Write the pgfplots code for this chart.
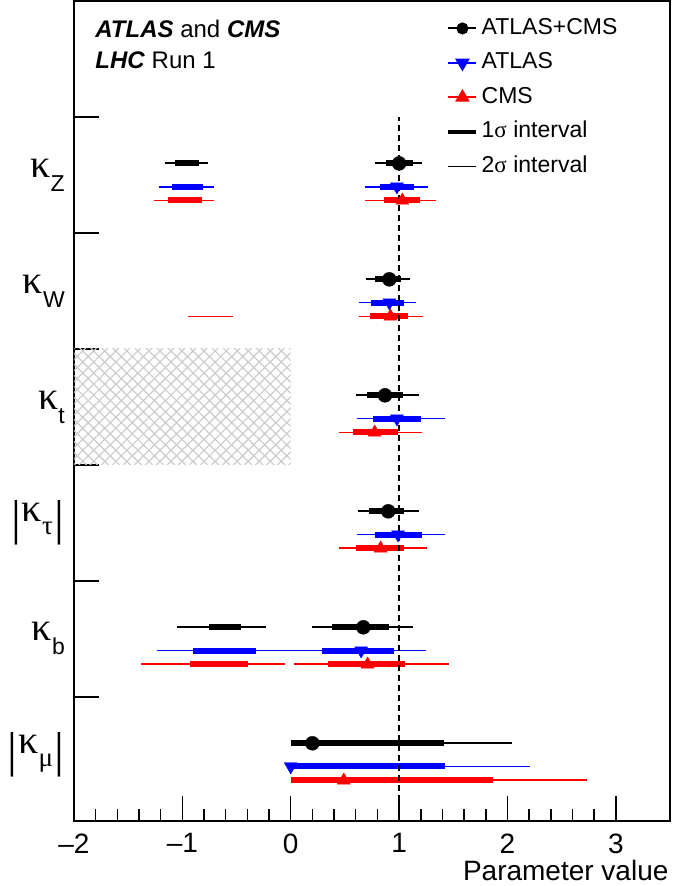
\documentclass[border=0pt]{standalone}
\usepackage{pgfplots}
\pgfplotsset{compat=1.18}
\usetikzlibrary{patterns.meta}
\usepackage{fontspec}
\setmainfont{Liberation Sans}
\newfontfamily\serifk{Liberation Serif}
\definecolor{kblack}{RGB}{1,1,1}
\newcommand\kap{{\serifk\fontsize{40}{40}\selectfont κ}}
\newcommand\sub[1]{\raisebox{-14pt}{\fontsize{23}{23}\selectfont #1}}
\newcommand\gsub[1]{\raisebox{-13pt}{\serifk\fontsize{27}{27}\selectfont #1}}
\newcommand\vbar{\raisebox{-13pt}{\serifk\fontsize{49}{49}\selectfont |}}
\newcommand\iv[4]{\addplot[#1,forget plot] coordinates {(#2,#4) (#3,#4)};}
\begin{document}
\begin{tikzpicture}
\begin{axis}[
  scale only axis, width=596pt, height=820pt,
  xmin=-2, xmax=3.5, ymin=-0.07, ymax=7,
  axis line style={line width=1.5pt},
  every tick/.style={black, line width=1.5pt},
  tick align=inside, xtick pos=left, ytick pos=left,
  major tick length=25pt, minor tick length=12pt,
  xtick={-2,-1,0,1,2,3},
  xticklabels={\textendash2,\textendash1,0,1,2,3},
  minor x tick num=4,
  xticklabel style={font=\fontsize{28}{28}\selectfont, yshift=-9pt},
  ytick={1,2,3,4,5,6}, yticklabels={},
  extra y ticks={0.5,1.5,2.5,3.5,4.5,5.5},
  extra y tick labels={{\vbar\hspace{1pt}\kap\gsub{μ}\hspace{2pt}\vbar},{\kap\sub{b}},{\vbar\hspace{1pt}\kap\gsub{τ}\hspace{2pt}\vbar},{\kap\sub{t}},{\kap\sub{W}},{\kap\sub{Z}}},
  extra y tick style={major tick length=0pt, yticklabel style={inner sep=0pt, xshift=-9pt}},
  xlabel={Parameter value},
  xlabel style={at={(rel axis cs:1,0)}, anchor=base east, yshift=-59pt, xshift=2pt, font=\fontsize{28}{28}\selectfont},
  s1/.style={line width=6pt},
  s2/.style={line width=1.9pt},
  legend image code/.code={\draw[mark repeat=2,mark phase=2,#1] plot coordinates {(0pt,0pt) (14pt,0pt) (28pt,0pt)};},
  legend cell align=left,
  legend style={at={(rel axis cs:0.625,0.982)}, anchor=north west, draw=none, fill=none, inner sep=0pt,
    font=\fontsize{23}{27}\selectfont, row sep=9.5pt, column sep=2pt,
    nodes={inner sep=1.5pt, text height=17pt, text depth=5pt}},
]
\addlegendimage{color=kblack, line width=2pt, mark=*, mark size=5pt}
\addlegendentry{ATLAS+CMS}
\addlegendimage{color=blue, line width=2pt, mark=triangle*, mark size=6.5pt, mark options={rotate=180}}
\addlegendentry{ATLAS}
\addlegendimage{color=red, line width=2pt, mark=triangle*, mark size=6.5pt}
\addlegendentry{CMS}
\addlegendimage{legend image code/.code={\draw[line width=3.5pt, draw=black] (0pt,0pt) -- (28pt,0pt);}}
\addlegendentry{1{\serifk σ} interval}
\addlegendimage{legend image code/.code={\draw[line width=1.5pt, draw=black] (0pt,0pt) -- (28pt,0pt);}}
\addlegendentry{2{\serifk σ} interval}

% hatched excluded region for kappa_t
\addplot[draw=none, pattern color=black!20, pattern={Lines[angle=45,distance=7.8pt,line width=1.2pt]}, forget plot] coordinates {(-2,3) (0,3) (0,4) (-2,4)} -- cycle;
\addplot[draw=none, pattern color=black!20, pattern={Lines[angle=-45,distance=7.8pt,line width=1.2pt]}, forget plot] coordinates {(-2,3) (0,3) (0,4) (-2,4)} -- cycle;

% kappa_Z (row 5)
\iv{black,s2}{-1.156}{-0.764}{5.6} \iv{black,s1}{-1.072}{-0.850}{5.6}
\iv{black,s2}{0.775}{1.215}{5.6}   \iv{black,s1}{0.880}{1.125}{5.6}
\iv{blue,s2}{-1.214}{-0.705}{5.4}  \iv{blue,s1}{-1.093}{-0.814}{5.4}
\iv{blue,s2}{0.682}{1.265}{5.4}    \iv{blue,s1}{0.827}{1.135}{5.4}
\iv{red,s2}{-1.266}{-0.705}{5.28}  \iv{red,s1}{-1.131}{-0.821}{5.28}
\iv{red,s2}{0.689}{1.342}{5.28}    \iv{red,s1}{0.858}{1.197}{5.28}
% kappa_W (row 4)
\iv{black,s2}{0.695}{1.104}{4.6}   \iv{black,s1}{0.775}{1.019}{4.6}
\iv{blue,s2}{0.627}{1.157}{4.4}    \iv{blue,s1}{0.744}{1.049}{4.4}
\iv{red,s2}{0.627}{1.218}{4.28}    \iv{red,s1}{0.732}{1.080}{4.28}
\iv{red,s2}{-0.952}{-0.533}{4.28}
% kappa_t (row 3)
\iv{black,s2}{0.603}{1.181}{3.6}   \iv{black,s1}{0.705}{1.033}{3.6}
\iv{blue,s2}{0.609}{1.425}{3.4}    \iv{blue,s1}{0.763}{1.203}{3.4}
\iv{red,s2}{0.443}{1.212}{3.28}    \iv{red,s1}{0.572}{0.987}{3.28}
% |kappa_tau| (row 2)
\iv{black,s2}{0.621}{1.181}{2.6}   \iv{black,s1}{0.726}{1.049}{2.6}
\iv{blue,s2}{0.615}{1.425}{2.4}    \iv{blue,s1}{0.778}{1.212}{2.4}
\iv{red,s2}{0.449}{1.259}{2.28}    \iv{red,s1}{0.606}{1.046}{2.28}
% kappa_b (row 1)
\iv{black,s2}{-1.054}{-0.228}{1.6} \iv{black,s1}{-0.752}{-0.459}{1.6}
\iv{black,s2}{0.197}{1.126}{1.6}   \iv{black,s1}{0.381}{0.904}{1.6}
\iv{blue,s2}{-1.235}{1.252}{1.4}
\iv{blue,s1}{-0.902}{-0.320}{1.4}  \iv{blue,s1}{0.289}{0.957}{1.4}
\iv{red,s2}{-1.379}{-0.050}{1.28}  \iv{red,s2}{0.027}{1.458}{1.28}
\iv{red,s1}{-0.927}{-0.391}{1.28}  \iv{red,s1}{0.341}{1.058}{1.28}
% |kappa_mu| (row 0)
\iv{black,s2}{0}{2.040}{0.6}       \iv{black,s1}{0}{1.418}{0.6}
\iv{blue,s2}{0}{2.210}{0.4}        \iv{blue,s1}{0}{1.428}{0.4}
\iv{red,s2}{0}{2.736}{0.28}        \iv{red,s1}{0}{1.864}{0.28}

% best-fit markers
\addplot[only marks, mark=*, mark size=7pt, black, forget plot] coordinates {(1.00,5.6) (0.91,4.6) (0.87,3.6) (0.90,2.6) (0.67,1.6) (0.20,0.6)};
\addplot[only marks, mark=triangle*, mark size=7.5pt, blue, mark options={rotate=180}, forget plot] coordinates {(0.98,5.4) (0.91,4.4) (0.98,3.4) (0.99,2.4) (0.65,1.4) (0.0,0.4)};
\addplot[only marks, mark=triangle*, mark size=7.5pt, red, forget plot] coordinates {(1.03,5.28) (0.92,4.28) (0.775,3.28) (0.83,2.28) (0.71,1.28) (0.49,0.28)};

% SM expectation
\addplot[black, line width=2.5pt, dash pattern=on 6pt off 4pt, forget plot] coordinates {(1,-0.07) (1,6)};

\node[anchor=base west, font=\fontsize{24}{24}\selectfont] at (rel axis cs:0.03,0.956) {\textbf{\textit{ATLAS}} and \textbf{\textit{CMS}}};
\node[anchor=base west, font=\fontsize{24}{24}\selectfont] at (rel axis cs:0.03,0.918) {\textbf{\textit{LHC}} Run 1};
\end{axis}
\pgfresetboundingbox
\path ([shift={(-74pt,-65pt)}]current axis.south west) rectangle ([shift={(2pt,1pt)}]current axis.north east);
\end{tikzpicture}
\end{document}
